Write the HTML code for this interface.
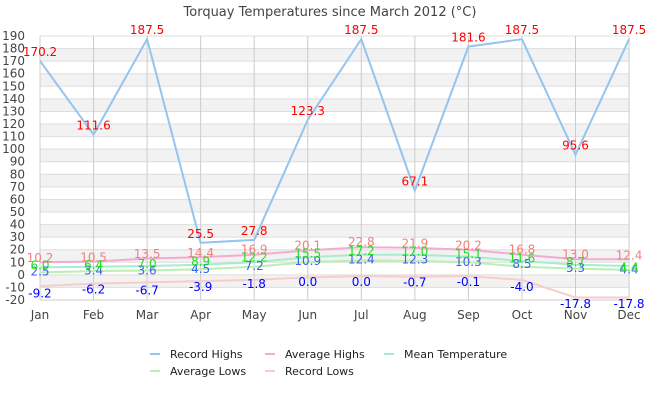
<!DOCTYPE html>
<html><head><meta charset="utf-8"><style>
body{margin:0;background:#fff;}
svg{display:block;font-family:"DejaVu Sans","Liberation Sans",sans-serif;}
</style></head><body>
<svg id="c" width="660" height="400" xmlns="http://www.w3.org/2000/svg"></svg>
<script>
const s=document.getElementById('c');let h='';
const X=i=>40+i*53.55, Y=v=>300-(v+20)*1.257;
h+='<text x="330" y="16" text-anchor="middle" font-size="13" fill="#444">Torquay Temperatures since March 2012 (°C)</text>';
for(let v=-20;v<190;v+=10){ if(((v/10)%2+2)%2==1) h+=`<rect x="40" y="${Y(v+10)}" width="589" height="${12.57}" fill="#f2f2f2"/>`;}
for(let v=-20;v<=190;v+=10){h+=`<line x1="40" x2="629" y1="${Y(v)}" y2="${Y(v)}" stroke="#ddd"/>`;
 h+=`<text x="25" y="${Y(v)+4}" text-anchor="end" font-size="12" fill="#444">${v}</text>`;}
const M=['Jan','Feb','Mar','Apr','May','Jun','Jul','Aug','Sep','Oct','Nov','Dec'];
M.forEach((m,i)=>{h+=`<line x1="${X(i)}" x2="${X(i)}" y1="${Y(190)}" y2="300" stroke="#ccc"/>`;
 h+=`<text x="${X(i)}" y="319" text-anchor="middle" font-size="12" fill="#444">${m}</text>`;});
h+=`<line x1="40" x2="40" y1="${Y(190)}" y2="300" stroke="#ccc"/><line x1="40" x2="629" y1="300" y2="300" stroke="#ccc"/>`;
function line(d,c){h+=`<polyline fill="none" stroke="${c}" stroke-width="2" points="${d.map((v,i)=>X(i)+','+Y(v)).join(' ')}"/>`;}
line([-9,-7,-6,-5,-4,-2,-1,-1.5,-1,-4,-18,-18],'#f6cccc');
line([2,3,3.5,4.5,6.5,10,11.5,11,10,6.5,5,4],'#b8f0b0');
line([6,6.5,7,8,10,14,16,16,14.5,11,8,7],'#a8ecd0');
line([10,10.5,13,14,16,19.5,22,21.5,20,16,12.5,12.4],'#f2acd0');
const RH=[170.2,111.6,187.5,25.5,27.8,123.3,187.5,67.1,181.6,187.5,95.6,187.5];
line(RH,'#94c4f0');
function lab(d,c,dy){d.forEach((v,i)=>{h+=`<text x="${X(i)}" y="${Y(v)+dy}" text-anchor="middle" font-size="12" fill="${c}">${v.toFixed(1)}</text>`;});}
lab(RH,'#f00',-5);
lab([10.2,10.5,13.5,14.4,16.9,20.1,22.8,21.9,20.2,16.8,13.0,12.4],'#f08080',0);
lab([2.5,3.4,3.6,4.5,7.2,10.9,12.4,12.3,10.3,8.5,5.3,4.4],'#4060f0',4);
lab([6.0,6.4,7.0,8.9,12.2,15.5,17.2,17.0,15.1,11.6,8.7,4.4],'#20e020',2);
lab([-9.2,-6.2,-6.7,-3.9,-1.8,0.0,0.0,-0.7,-0.1,-4.0,-17.8,-17.8],'#0000ff',11);
const L=[['Record Highs','#94c4f0',150,354],['Average Highs','#f2acd0',265,354],['Mean Temperature','#a8ecd0',384,354],['Average Lows','#b8f0b0',150,371],['Record Lows','#f6cccc',265,371]];
L.forEach(([t,c,x,y])=>{h+=`<line x1="${x}" x2="${x+10}" y1="${y}" y2="${y}" stroke="${c}" stroke-width="2"/><text x="${x+20}" y="${y+4}" font-size="11" fill="#222">${t}</text>`;});
s.innerHTML=h;
</script>
</body></html>
